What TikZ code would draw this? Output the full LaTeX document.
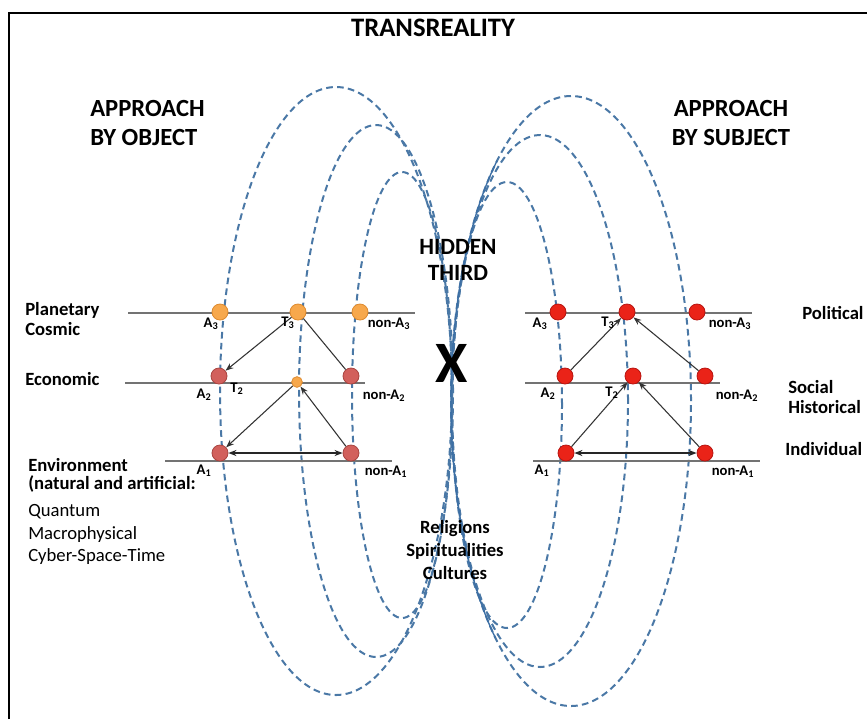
\documentclass[tikz,border=0pt]{standalone}
\usepackage{fontspec}
\setmainfont{Carlito}
\usetikzlibrary{arrows.meta,calc}
\definecolor{ellblue}{HTML}{4A78A6}
\definecolor{solblue}{HTML}{3C6FA5}
\definecolor{orangedot}{HTML}{F7A84C}
\definecolor{orangeedge}{HTML}{DE8A2E}
\definecolor{pinkdot}{HTML}{D2605C}
\definecolor{pinkedge}{HTML}{A84440}
\definecolor{reddot}{HTML}{EA2318}
\definecolor{rededge}{HTML}{B81410}
\tikzset{
  ell/.style={draw=ellblue, line width=1.5pt, dash pattern=on 5pt off 3.2pt},
  solidarc/.style={draw=solblue, line width=1pt},
  level/.style={draw=black!55, line width=1.2pt},
  arr/.style={-{Stealth[length=6pt,width=4.5pt]}, line width=0.8pt, draw=black!80},
  darr/.style={{Stealth[length=6pt,width=4.5pt]}-{Stealth[length=6pt,width=4.5pt]}, line width=1pt, draw=black!85},
  plainarr/.style={line width=0.8pt, draw=black!80},
  dot/.style={circle, minimum size=12pt, inner sep=0pt, line width=0.6pt},
  odot/.style={dot, fill=orangedot, draw=orangeedge},
  pdot/.style={dot, fill=pinkdot, draw=pinkedge},
  rdot/.style={dot, fill=reddot, draw=rededge},
  lab/.style={font=\bfseries\fontsize{11}{13}\selectfont, inner sep=0pt},
  side/.style={font=\bfseries\fontsize{14}{15.5}\selectfont, inner sep=0pt, align=left},
  sidereg/.style={font=\fontsize{14}{15.5}\selectfont, inner sep=0pt, align=left},
  head/.style={font=\bfseries\fontsize{18.5}{22}\selectfont, inner sep=0pt},
}
\begin{document}
\begin{tikzpicture}[x=0.75pt,y=-0.75pt]
\useasboundingbox (0,0) rectangle (867,719);
\fill[white] (0,0) rectangle (867,719);
% frame
\draw[line width=1.2pt] (9,719) -- (9,13) -- (867,13);

% ellipses
\draw[ell] (336,391) ellipse [x radius=87pt, y radius=228pt];
\draw[ell] (376,391) ellipse [x radius=57.75pt, y radius=199.5pt];
\draw[ell] (402,395) ellipse [x radius=37.5pt, y radius=167.25pt];
\draw[ell] (571,401) ellipse [x radius=90pt, y radius=228.75pt];
\draw[ell] (540,401) ellipse [x radius=66pt, y radius=199.5pt];
\draw[ell] (507,405) ellipse [x radius=41.25pt, y radius=167.25pt];
\draw[solidarc] ($(571,401)+(128:90pt and 228.75pt)$) arc[start angle=128, end angle=231, x radius=90pt, y radius=228.75pt];

% titles
\node[font=\bfseries\fontsize{20}{24}\selectfont, inner sep=0pt] (trans) at (433,28) {TRANSREALITY};
\node[head, align=left, anchor=west] (obj) at (90,123) {APPROACH\\BY OBJECT};
\node[head, align=center] (subj) at (731,123) {APPROACH\\BY SUBJECT};
\node[font=\bfseries\fontsize{17.5}{20}\selectfont, inner sep=0pt, align=center] (hidden) at (458,260) {HIDDEN\\THIRD};
\node[font=\bfseries\fontsize{44}{44}\selectfont, inner sep=0pt] (x) at (452,363) {X};
\node[font=\bfseries\fontsize{14}{17}\selectfont, inner sep=0pt, align=center] (rel) at (455,550) {Religions\\Spiritualities\\Cultures};

% left levels
\draw[level] (128,313) -- (415,313);
\draw[level] (125,383) -- (365,383);
\draw[level] (165,461) -- (392,461);

\node[odot] (lA3) at (220,312) {};
\node[odot] (lT3) at (298,312) {};
\node[odot] (lN3) at (360,312) {};
\node[pdot] (lA2) at (219,376) {};
\node[odot, minimum size=8pt] (lT2) at (297,382) {};
\node[pdot] (lN2) at (351,376) {};
\node[pdot] (lA1) at (220,453) {};
\node[pdot] (lN1) at (351,453) {};

\draw[arr] (lT3) -- (lA2);
\draw[plainarr] (lT3) -- (lN2);
\draw[arr] (lT2) -- (lA1);
\draw[arr] (lN1) -- (lT2);
\draw[darr] (lA1) -- (lN1);

\node[lab] (llA3) at (211,324) {A\textsubscript{3}};
\node[lab] (llT3) at (288,323) {T\textsubscript{3}};
\node[lab] (llN3) at (389,324) {non-A\textsubscript{3}};
\node[lab] (llA2) at (204,395) {A\textsubscript{2}};
\node[lab] (llT2) at (237,389) {T\textsubscript{2}};
\node[lab] (llN2) at (384,396) {non-A\textsubscript{2}};
\node[lab] (llA1) at (204,471) {A\textsubscript{1}};
\node[lab] (llN1) at (386,472) {non-A\textsubscript{1}};

\node[side, anchor=west] (planet) at (25,319) {Planetary\\Cosmic};
\node[side, anchor=west] (econ) at (25,379) {Economic};
\node[side, anchor=west] (env1) at (28,465) {Environment};
\node[side, anchor=west] (env2) at (28,484) {(natural and artificial:};
\node[sidereg, anchor=west] (env3) at (28,512) {Quantum};
\node[sidereg, anchor=west] (env4) at (28,535) {Macrophysical};
\node[sidereg, anchor=west] (env5) at (28,557) {Cyber-Space-Time};

% right levels
\draw[level] (525,313) -- (752,313);
\draw[level] (525,383) -- (720,383);
\draw[level] (533,461) -- (760,461);

\node[rdot] (rA3) at (558,312) {};
\node[rdot] (rT3) at (627,312) {};
\node[rdot] (rN3) at (697,312) {};
\node[rdot] (rA2) at (565,376) {};
\node[rdot] (rT2) at (633,376) {};
\node[rdot] (rN2) at (705,376) {};
\node[rdot] (rA1) at (566,453) {};
\node[rdot] (rN1) at (705,453) {};

\draw[arr] (rA2) -- (rT3);
\draw[arr] (rN2) -- (rT3);
\draw[arr] (rA1) -- (rT2);
\draw[arr] (rN1) -- (rT2);
\draw[darr] (rA1) -- (rN1);

\node[lab] (rlA3) at (540,324) {A\textsubscript{3}};
\node[lab] (rlT3) at (608,323) {T\textsubscript{3}};
\node[lab] (rlN3) at (730,324) {non-A\textsubscript{3}};
\node[lab] (rlA2) at (548,394) {A\textsubscript{2}};
\node[lab] (rlT2) at (612,393) {T\textsubscript{2}};
\node[lab] (rlN2) at (737,396) {non-A\textsubscript{2}};
\node[lab] (rlA1) at (542,471) {A\textsubscript{1}};
\node[lab] (rlN1) at (733,472) {non-A\textsubscript{1}};

\node[side, anchor=west] (polit) at (802,313) {Political};
\node[side, anchor=west] (social) at (788,397) {Social\\Historical};
\node[side, anchor=west] (indiv) at (785,449) {Individual};
\end{tikzpicture}
\end{document}
